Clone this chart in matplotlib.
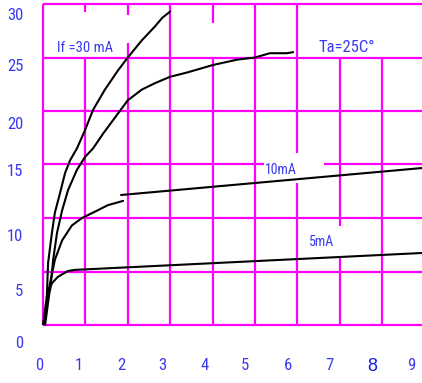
import matplotlib
matplotlib.use("Agg")
import matplotlib.pyplot as plt
from matplotlib import font_manager

# ---------------- data ----------------
# If = 30 mA, upper curve
c1_x = [0.09, 0.12, 0.21, 0.28, 0.40, 0.52, 0.64, 0.80, 0.99, 1.18, 1.46, 1.77, 2.00, 2.33, 2.64, 2.81, 3.00]
c1_y = [2.6, 5.8, 8.6, 10.5, 12.3, 14.2, 15.4, 16.5, 18.2, 20.1, 22.0, 23.8, 25.0, 26.6, 27.9, 28.7, 29.3]
# If = 30 mA, lower curve
c2_x = [0.10, 0.17, 0.24, 0.33, 0.45, 0.59, 0.80, 0.99, 1.18, 1.42, 1.70, 2.00, 2.33, 2.64, 3.00, 3.40, 4.01, 4.58, 5.00, 5.35, 5.75, 5.90]
c2_y = [2.6, 3.3, 6.1, 8.6, 10.7, 12.6, 14.5, 15.7, 16.5, 17.9, 19.4, 21.0, 22.0, 22.6, 23.2, 23.6, 24.3, 24.8, 25.0, 25.4, 25.4, 25.5]
# 10 mA, curved part and straight part
c3_x = [0.12, 0.28, 0.45, 0.68, 0.92, 1.23, 1.53, 1.89]
c3_y = [3.0, 6.1, 7.9, 9.3, 10.0, 10.6, 11.2, 11.6]
c3b_x = [1.84, 8.94]
c3b_y = [12.15, 14.67]
# 5 mA
c4_x = [0.09, 0.21, 0.35, 0.59, 0.75, 8.94]
c4_y = [2.6, 3.9, 4.5, 5.05, 5.15, 6.73]
# common steep start near the origin
stem_x = [0.03, 0.125]
stem_y = [0.16, 2.96]

x_tick_labels = ['0', '1', '2', '3', '4', '5', '6', '7', '8', '9']
x_tick_pos = [-0.094, 0.849, 1.840, 2.807, 3.821, 4.764, 5.778, 6.745, 7.759, 8.679]
y_tick_labels = ['30', '25', '20', '15', '10', '5', '0']
y_tick_pos = [29.07, 24.3, 18.88, 14.49, 8.41, 3.27, -1.59]

# ---------------- style ----------------
names = {f.name for f in font_manager.fontManager.ttflist}
NARROW = 'DejaVu Sans'
for cand in ['Liberation Sans Narrow', 'Arial Narrow', 'Roboto Condensed', 'PT Sans Narrow',
             'Archivo Narrow', 'Barlow Semi Condensed', 'Asap Condensed']:
    if cand in names:
        NARROW = cand
        break
REGULAR = 'Liberation Sans' if 'Liberation Sans' in names else 'DejaVu Sans'
BLUE = '#3a3af0'
MAG = '#ff00ff'
W, H = 422, 383
PXX, PXY = 42.4, 10.7          # pixels per data unit
X0PX, Y0PX = 43, 325           # pixel of data origin
XLIM = (-0.2, 9.0)
YLIM = (-3.0, 30.4)

fig = plt.figure(figsize=(W / 100, H / 100), dpi=100)
left = X0PX + XLIM[0] * PXX
right = X0PX + XLIM[1] * PXX
bottom = Y0PX - YLIM[0] * PXY
top = Y0PX - YLIM[1] * PXY
ax = fig.add_axes([left / W, 1 - bottom / H, (right - left) / W, (bottom - top) / H])
ax.set_xlim(*XLIM)
ax.set_ylim(*YLIM)
for s in ax.spines.values():
    s.set_visible(False)

# grid (with the gaps seen in the reference)
glw = 1.6
vsegs = {0: [(0, 30)], 1: [(0, 25), (29.25, 30)], 2: [(0, 26.35), (29.0, 30)], 3: [(0, 30)],
         4: [(0, 24.9), (28.2, 30)], 5: [(0, 30)], 6: [(0, 13.27), (16.07, 30)],
         7: [(0, 6.45), (9.25, 25)], 8: [(0, 25)]}
for xv, segs in vsegs.items():
    for a, b in segs:
        ax.plot([xv, xv], [a, b], color=MAG, lw=glw, solid_capstyle='butt', zorder=1)
hsegs = {0: [(0, 9)], 5: [(0, 9)], 10: [(0, 9)], 15: [(0, 5.21), (6.63, 9)],
         20: [(0, 9)], 25: [(0, 9)], 30: [(0, 9)]}
for yv, segs in hsegs.items():
    for a, b in segs:
        ax.plot([a, b], [yv, yv], color=MAG, lw=glw, solid_capstyle='butt', zorder=1)

# curves
lw = 1.5
for xs, ys in [(c1_x, c1_y), (c2_x, c2_y), (c3_x, c3_y), (c3b_x, c3b_y), (c4_x, c4_y)]:
    ax.plot(xs, ys, color='black', lw=lw, zorder=3, solid_capstyle='round')
ax.plot(stem_x, stem_y, color='black', lw=3.0, zorder=3)

# ticks
ax.set_xticks(x_tick_pos)
ax.set_xticklabels(x_tick_labels)
ax.set_yticks(y_tick_pos)
ax.set_yticklabels(y_tick_labels)
ax.tick_params(axis='both', length=0, colors=BLUE, labelsize=12)
ax.tick_params(axis='x', pad=1)
ax.tick_params(axis='y', pad=8)
for t in ax.get_xticklabels() + ax.get_yticklabels():
    t.set_fontfamily(NARROW)
    t.set_color(BLUE)
lab8 = ax.get_xticklabels()[8]
lab8.set_fontfamily(REGULAR)
lab8.set_fontsize(13)
lab8.set_color('#1a1ae0')

# annotations
tk = dict(color=BLUE, family=NARROW, ha='center', va='center', zorder=4)
ax.text(0.99, 25.9, 'If =30 mA', fontsize=10.5, **tk)
ax.text(7.17, 25.9, 'Ta=25C°', fontsize=12, **tk)
ax.text(5.61, 14.5, '10mA', fontsize=10, **tk)
ax.text(6.57, 7.76, '5mA', fontsize=10, **tk)

fig.savefig('out.png', dpi=100)
